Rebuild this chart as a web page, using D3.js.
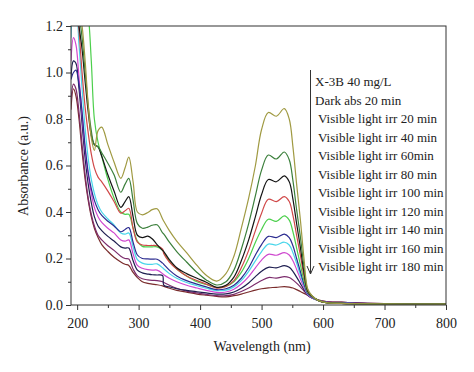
<!DOCTYPE html>
<html>
<head>
<meta charset="utf-8">
<script src="https://cdn.jsdelivr.net/npm/d3@7/dist/d3.min.js"></script>
<style>
  body { margin: 0; background: #fff; }
  text { font-family: "Liberation Serif", "DejaVu Serif", serif; fill: #222; }
</style>
</head>
<body>
<script>
// wavelength grid (nm) shared by every spectrum
var wavelengths = [190, 194, 198, 203, 208, 213, 218, 223, 228, 234, 240, 250, 260, 271, 278, 284, 291, 298, 306, 315, 322, 330, 339, 341, 350, 362, 378, 395, 410, 427, 442, 455, 467, 479, 490, 500, 511, 524, 537, 545, 551, 557, 563, 569, 575, 582, 592, 605, 630, 680, 800];

// absorbance, one array per curve
var x3b     = [1.25, 1.3, 1.3, 1.28, 1.2, 1.05, 0.86, 0.72, 0.665, 0.75, 0.765, 0.69, 0.615, 0.545, 0.59, 0.636, 0.53, 0.4, 0.388, 0.398, 0.41, 0.414, 0.37, 0.36, 0.32, 0.275, 0.225, 0.17, 0.128, 0.103, 0.135, 0.21, 0.33, 0.46, 0.6, 0.755, 0.828, 0.812, 0.845, 0.8, 0.68, 0.52, 0.37, 0.2, 0.07, 0.04, 0.02, 0.01, 0.007, 0.005, 0.004];
var darkAbs = [1.3, 1.35, 1.32, 1.25, 1.15, 1.0, 0.86, 0.75, 0.69, 0.68, 0.655, 0.61, 0.56, 0.485, 0.52, 0.545, 0.45, 0.35, 0.33, 0.335, 0.343, 0.345, 0.31, 0.305, 0.27, 0.23, 0.185, 0.14, 0.108, 0.086, 0.1, 0.15, 0.24, 0.35, 0.47, 0.58, 0.645, 0.628, 0.658, 0.625, 0.535, 0.41, 0.295, 0.165, 0.065, 0.04, 0.02, 0.01, 0.007, 0.005, 0.004];
var irr20   = [1.3, 1.35, 1.3, 1.2, 1.1, 0.96, 0.83, 0.73, 0.69, 0.68, 0.64, 0.56, 0.49, 0.42, 0.445, 0.466, 0.38, 0.3, 0.29, 0.296, 0.285, 0.26, 0.235, 0.23, 0.195, 0.16, 0.135, 0.115, 0.098, 0.076, 0.085, 0.12, 0.19, 0.28, 0.38, 0.475, 0.54, 0.53, 0.555, 0.53, 0.455, 0.35, 0.25, 0.14, 0.06, 0.038, 0.02, 0.01, 0.007, 0.005, 0.004];
var irr40   = [1.2, 1.3, 1.3, 1.18, 1.0, 0.85, 0.74, 0.65, 0.59, 0.55, 0.53, 0.49, 0.445, 0.395, 0.405, 0.416, 0.33, 0.27, 0.258, 0.256, 0.256, 0.255, 0.24, 0.22, 0.185, 0.155, 0.125, 0.105, 0.09, 0.073, 0.08, 0.105, 0.16, 0.235, 0.32, 0.395, 0.455, 0.445, 0.466, 0.445, 0.385, 0.3, 0.215, 0.125, 0.058, 0.037, 0.02, 0.01, 0.007, 0.005, 0.004];
var irr60   = [1.3, 1.35, 1.38, 1.38, 1.36, 1.32, 1.25, 1.05, 0.8, 0.7, 0.64, 0.54, 0.46, 0.4, 0.39, 0.39, 0.33, 0.275, 0.252, 0.25, 0.25, 0.25, 0.235, 0.225, 0.19, 0.155, 0.125, 0.1, 0.088, 0.075, 0.08, 0.1, 0.14, 0.2, 0.27, 0.325, 0.369, 0.36, 0.383, 0.365, 0.315, 0.245, 0.175, 0.105, 0.055, 0.036, 0.02, 0.01, 0.007, 0.005, 0.004];
var irr80   = [0.97, 1.0, 1.01, 0.95, 0.83, 0.68, 0.57, 0.5, 0.45, 0.41, 0.385, 0.36, 0.34, 0.315, 0.325, 0.333, 0.27, 0.215, 0.2, 0.198, 0.197, 0.197, 0.18, 0.175, 0.15, 0.125, 0.105, 0.09, 0.078, 0.066, 0.07, 0.085, 0.115, 0.16, 0.215, 0.26, 0.295, 0.29, 0.305, 0.29, 0.255, 0.2, 0.145, 0.09, 0.05, 0.034, 0.02, 0.011, 0.008, 0.005, 0.004];
var irr100  = [1.15, 1.25, 1.25, 1.12, 0.93, 0.76, 0.63, 0.54, 0.48, 0.43, 0.4, 0.37, 0.345, 0.31, 0.305, 0.31, 0.25, 0.195, 0.18, 0.175, 0.175, 0.177, 0.16, 0.155, 0.135, 0.115, 0.097, 0.083, 0.072, 0.062, 0.064, 0.078, 0.105, 0.145, 0.19, 0.23, 0.262, 0.258, 0.27, 0.258, 0.225, 0.18, 0.13, 0.085, 0.048, 0.033, 0.02, 0.011, 0.008, 0.005, 0.004];
var irr120  = [1.05, 1.15, 1.12, 0.98, 0.82, 0.67, 0.56, 0.48, 0.42, 0.38, 0.355, 0.33, 0.31, 0.28, 0.275, 0.28, 0.22, 0.17, 0.158, 0.152, 0.15, 0.15, 0.135, 0.13, 0.115, 0.1, 0.085, 0.073, 0.063, 0.054, 0.056, 0.068, 0.09, 0.122, 0.16, 0.193, 0.218, 0.214, 0.225, 0.215, 0.19, 0.153, 0.113, 0.075, 0.045, 0.031, 0.02, 0.012, 0.009, 0.006, 0.004];
var irr140  = [0.98, 1.05, 1.04, 0.93, 0.78, 0.63, 0.52, 0.44, 0.38, 0.34, 0.32, 0.295, 0.275, 0.25, 0.245, 0.245, 0.19, 0.15, 0.138, 0.133, 0.13, 0.129, 0.127, 0.085, 0.078, 0.07, 0.063, 0.057, 0.052, 0.047, 0.048, 0.056, 0.072, 0.095, 0.122, 0.145, 0.162, 0.16, 0.169, 0.162, 0.145, 0.12, 0.093, 0.066, 0.043, 0.03, 0.02, 0.013, 0.01, 0.006, 0.004];
var irr160  = [0.88, 0.95, 0.93, 0.83, 0.69, 0.56, 0.46, 0.39, 0.34, 0.3, 0.28, 0.255, 0.235, 0.21, 0.2, 0.198, 0.155, 0.125, 0.113, 0.108, 0.106, 0.105, 0.1, 0.097, 0.085, 0.072, 0.06, 0.052, 0.046, 0.04, 0.04, 0.046, 0.058, 0.073, 0.09, 0.105, 0.118, 0.116, 0.122, 0.118, 0.108, 0.094, 0.078, 0.06, 0.042, 0.03, 0.02, 0.015, 0.012, 0.007, 0.005];
var irr180  = [0.84, 0.93, 0.9, 0.8, 0.66, 0.54, 0.45, 0.38, 0.33, 0.29, 0.26, 0.23, 0.205, 0.185, 0.175, 0.17, 0.14, 0.118, 0.1, 0.093, 0.09, 0.087, 0.082, 0.08, 0.072, 0.063, 0.055, 0.047, 0.042, 0.037, 0.035, 0.04, 0.047, 0.056, 0.064, 0.07, 0.074, 0.076, 0.079, 0.077, 0.073, 0.066, 0.058, 0.05, 0.042, 0.032, 0.022, 0.015, 0.012, 0.007, 0.005];

var legendLabels = ["X-3B 40 mg/L", "Dark abs 20 min", "Visible light irr 20 min", "Visible light irr 40 min",
  "Visible light irr 60min", "Visible light irr 80 min", "Visible light irr 100 min", "Visible light irr 120 min",
  "Visible light irr 140 min", "Visible light irr 160 min", "Visible light irr 180 min"];
var lineColors = ["#a09a42", "#3b7f3b", "#151515", "#d04848", "#4ccf4c", "#2c2c90", "#48d6ea", "#cf48cf", "#1e1e50", "#7c2c6c", "#7a2c2c"];

var xTicks = [200, 300, 400, 500, 600, 700, 800];
var yTicks = [0.0, 0.2, 0.4, 0.6, 0.8, 1.0, 1.2];

window.onload = function(){

	var w = 474, h = 372;
	var left = 71, right = 446, top = 26, bottom = 305;

	var svg = d3.select("body")
		.append("svg")
		.attr("width", w)
		.attr("height", h);

	var x = d3.scaleLinear().domain([190, 800]).range([left, right]);
	var y = d3.scaleLinear().domain([0, 1.2]).range([bottom, top]);

	// clip the curves to the frame, they shoot over 1.2 in the UV
	svg.append("clipPath")
		.attr("id", "plotClip")
		.append("rect")
		.attr("x", left)
		.attr("y", top)
		.attr("width", right - left)
		.attr("height", bottom - top);

	var series = [x3b, darkAbs, irr20, irr40, irr60, irr80, irr100, irr120, irr140, irr160, irr180];

	var line = d3.line()
		.x(function(d){ return x(d[0]); })
		.y(function(d){ return y(d[1]); })
		.curve(d3.curveCatmullRom.alpha(0.5));

	// draw the lowest curve first so the top ones sit above
	svg.append("g")
		.attr("clip-path", "url(#plotClip)")
		.selectAll("path")
		.data(series.slice().reverse())
		.enter()
		.append("path")
		.attr("d", function(s){
			return line(wavelengths.map(function(wl, i){ return [wl, s[i]]; }));
		})
		.attr("fill", "none")
		.attr("stroke", function(s, i){ return lineColors[series.length - 1 - i]; })
		.attr("stroke-width", 1.2);

	// frame
	svg.append("rect")
		.attr("x", left)
		.attr("y", top)
		.attr("width", right - left)
		.attr("height", bottom - top)
		.attr("fill", "none")
		.attr("stroke", "#333")
		.attr("stroke-width", 1);

	// x axis, major + minor ticks
	var xAxis = svg.append("g")
		.attr("transform", "translate(0," + bottom + ")")
		.call(d3.axisBottom(x).tickValues(xTicks).tickSize(5).tickFormat(d3.format("d")));
	svg.append("g")
		.attr("transform", "translate(0," + bottom + ")")
		.call(d3.axisBottom(x).tickValues([250, 350, 450, 550, 650, 750]).tickSize(3).tickFormat(""));

	var yAxis = svg.append("g")
		.attr("transform", "translate(" + left + ",0)")
		.call(d3.axisLeft(y).tickValues(yTicks).tickSize(5).tickFormat(d3.format(".1f")));
	svg.append("g")
		.attr("transform", "translate(" + left + ",0)")
		.call(d3.axisLeft(y).tickValues([0.1, 0.3, 0.5, 0.7, 0.9, 1.1]).tickSize(3).tickFormat(""));

	svg.selectAll(".domain").remove();
	svg.selectAll(".tick line").attr("stroke", "#333");
	svg.selectAll(".tick text")
		.style("font-family", "'Liberation Serif', serif")
		.style("font-size", "14px")
		.attr("fill", "#222");
	xAxis.selectAll(".tick text").attr("dy", "1.05em");
	yAxis.selectAll(".tick text").attr("x", -8);

	// axis titles
	svg.append("text")
		.attr("x", 262)
		.attr("y", 351)
		.attr("text-anchor", "middle")
		.style("font-size", "14px")
		.text("Wavelength (nm)");

	svg.append("text")
		.attr("transform", "translate(28,166) rotate(-90)")
		.attr("text-anchor", "middle")
		.style("font-size", "14px")
		.text("Absorbance (a.u.)");

	// legend arrow
	var arrowX = 310.5;
	svg.append("line")
		.attr("x1", arrowX).attr("y1", 70)
		.attr("x2", arrowX).attr("y2", 274)
		.attr("stroke", "#333")
		.attr("stroke-width", 1);
	svg.append("path")
		.attr("d", "M" + (arrowX - 3.5) + ",266 L" + arrowX + ",274 L" + (arrowX + 3.5) + ",266")
		.attr("fill", "none")
		.attr("stroke", "#333")
		.attr("stroke-width", 1);

	// legend text
	svg.selectAll(".legend")
		.data(legendLabels)
		.enter()
		.append("text")
		.attr("class", "legend")
		.attr("x", function(d, i){ return i < 2 ? 315 : 318; })
		.attr("y", function(d, i){ return 86 + i * 18.5; })
		.style("font-size", "13px")
		.text(function(d){ return d; });
};
</script>
</body>
</html>
